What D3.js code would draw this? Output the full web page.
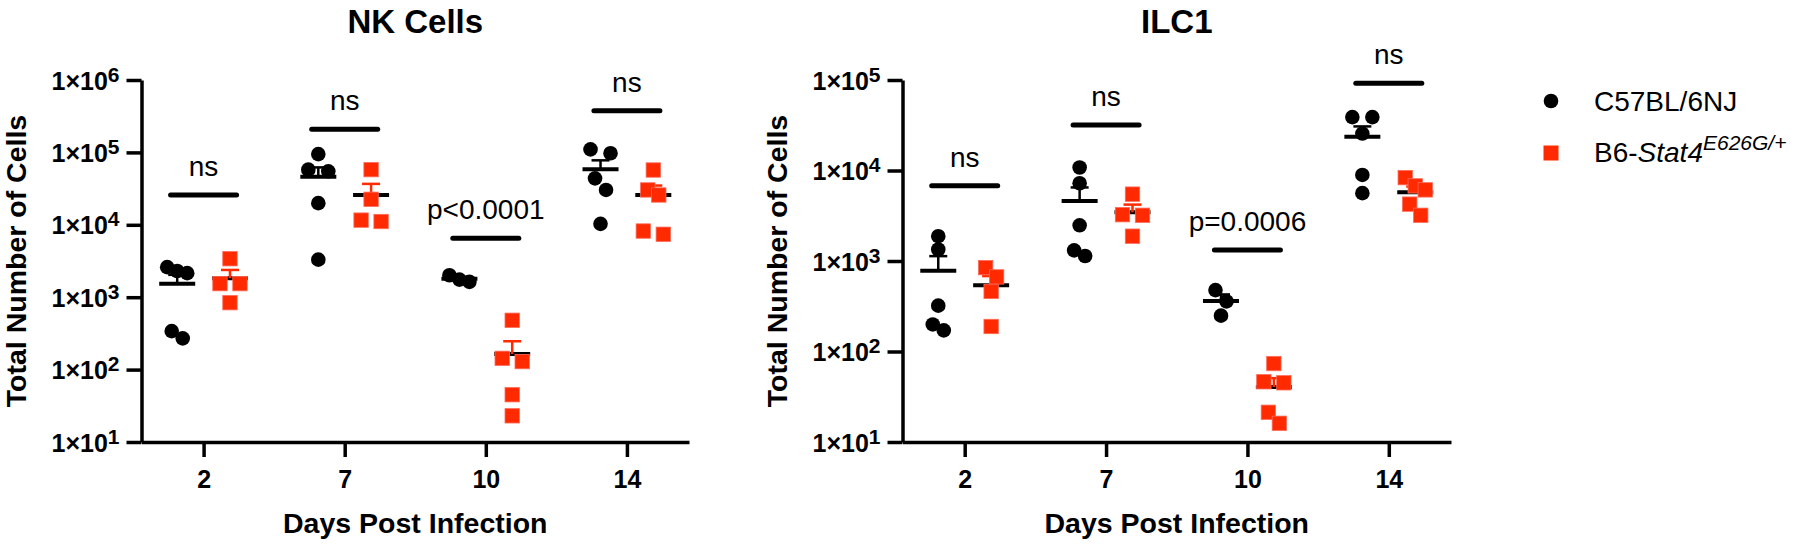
<!DOCTYPE html>
<html>
<head>
<meta charset="utf-8">
<script src="https://cdn.jsdelivr.net/npm/d3@7"></script>
<style>
  html, body { margin: 0; padding: 0; background: #fff; }
  svg { display: block; }
  text { font-family: "Liberation Sans", Arial, sans-serif; fill: #000; }
</style>
</head>
<body>
<script>
// ---------------- DATA ----------------
const days = ["2", "7", "10", "14"];
const seriesNames = ["C57BL/6NJ", "B6-Stat4"];

// NK Cells – total number of cells per mouse
const nkC57 = [
  [2600, 2300, 2150, 340, 270],
  [94700, 57800, 54800, 19900, 3300],
  [2010, 1750, 1630],
  [110000, 97300, 43800, 30300, 10300]
];
const nkStat4 = [
  [3400, 1540, 1540, 840],
  [57800, 22500, 11600, 11100],
  [480, 143, 129, 45, 23],
  [57100, 30300, 25800, 8200, 7400]
];
const nkSigValues = [25800, 208000, 6500, 377000];
const nkSigLabels = ["ns", "ns", "p<0.0001", "ns"];
const nkYTicks = [1e1, 1e2, 1e3, 1e4, 1e5, 1e6];

// ILC1 – total number of cells per mouse
const ilcC57 = [
  [1880, 1340, 321, 199, 171],
  [10800, 7230, 2480, 1310, 1135],
  [477, 358, 249],
  [38900, 38900, 25600, 8930, 5620]
];
const ilcStat4 = [
  [845, 667, 461, 189],
  [5480, 3250, 3200, 1880],
  [73.6, 46.3, 45.1, 21.3, 16.1],
  [8340, 6760, 6110, 4250, 3200]
];
const ilcSigValues = [6790, 31900, 1325, 91900];
const ilcSigLabels = ["ns", "ns", "p=0.0006", "ns"];
const ilcYTicks = [1e1, 1e2, 1e3, 1e4, 1e5];

// ---------------- STYLE ----------------
const RED = "#ff2a00";
const W = 1800, H = 544;
const TOP = 80, BOTTOM = 442;

const svg = d3.select("body").append("svg")
  .attr("width", W).attr("height", H)
  .attr("viewBox", `0 0 ${W} ${H}`);

// Prism-like scatter: points whose pixel heights are close share a row, spread symmetrically
function scatterRows(vals, y, cx, rowH) {
  const pts = vals.map((v, i) => ({ v, i, py: y(v) })).sort((a, b) => a.py - b.py);
  const out = [];
  let k = 0;
  while (k < pts.length) {
    const row = [pts[k]];
    let j = k + 1;
    while (j < pts.length && pts[j].py - pts[k].py < rowH) { row.push(pts[j]); j++; }
    const n = row.length;
    let sp = 10;
    if (n === 2) sp = (row[1].py - row[0].py) < 5 ? 20 : 11;
    row.forEach((p, i) => { p.px = cx + (i - (n - 1) / 2) * sp; out.push(p); });
    k = j;
  }
  return out;
}

function panel(cfg) {
  const g = svg.append("g");
  const x = d3.scalePoint().domain(days).range([cfg.left, cfg.right]).padding(0.44);
  const y = d3.scaleLog().domain([10, cfg.yMax]).range([BOTTOM, TOP]);
  const groupOff = x.step() * 0.187;

  // title
  g.append("text")
    .attr("x", (cfg.left + cfg.right) / 2).attr("y", 33)
    .attr("text-anchor", "middle")
    .style("font-size", "33px").style("font-weight", "bold")
    .text(cfg.title);

  // y axis
  const yAxis = d3.axisLeft(y).tickValues(cfg.yTicks).tickSize(15).tickSizeOuter(0).tickPadding(7)
    .tickFormat(() => "");
  const ya = g.append("g").attr("transform", `translate(${cfg.left},0)`).call(yAxis);
  ya.select(".domain").attr("stroke", "#000").attr("stroke-width", 3.5);
  ya.selectAll(".tick line").attr("stroke", "#000").attr("stroke-width", 3.5);
  ya.selectAll(".tick text").each(function (d) {
    const t = d3.select(this);
    const exp = Math.round(Math.log10(d));
    t.attr("font-family", null).attr("font-size", null)
      .style("font-size", "25px").style("font-weight", "bold").attr("dy", "0.36em");
    t.append("tspan").text("1\u00d710");
    t.append("tspan").attr("dy", "-8").style("font-size", "21px").text(exp);
  });

  // x axis
  const xAxis = d3.axisBottom(x).tickSize(15).tickSizeOuter(0).tickPadding(13);
  const xa = g.append("g").attr("transform", `translate(0,${BOTTOM})`).call(xAxis);
  xa.select(".domain").attr("stroke", "#000").attr("stroke-width", 3.5);
  xa.selectAll(".tick line").attr("stroke", "#000").attr("stroke-width", 3.5);
  xa.selectAll(".tick text").attr("font-family", null).attr("font-size", null)
    .style("font-size", "25px").style("font-weight", "bold");

  // axis titles
  g.append("text")
    .attr("transform", `translate(${cfg.left - 116},${(TOP + BOTTOM) / 2}) rotate(-90)`)
    .attr("text-anchor", "middle")
    .style("font-size", "28.5px").style("font-weight", "bold")
    .text("Total Number of Cells");
  g.append("text")
    .attr("x", (cfg.left + cfg.right) / 2).attr("y", 533)
    .attr("text-anchor", "middle")
    .style("font-size", "28.5px").style("font-weight", "bold")
    .text("Days Post Infection");

  // groups
  const series = [
    { vals: cfg.c57, color: "#000", shape: "circle", off: -groupOff },
    { vals: cfg.stat4, color: RED, shape: "square", off: groupOff }
  ];
  series.forEach(s => {
    s.vals.forEach((vals, di) => {
      const cx = x(days[di]) + s.off;
      const mean = d3.mean(vals);
      const sem = d3.deviation(vals) / Math.sqrt(vals.length);
      // mean line
      g.append("line").attr("x1", cx - 18).attr("x2", cx + 18)
        .attr("y1", y(mean)).attr("y2", y(mean))
        .attr("stroke", "#000").attr("stroke-width", 4);
      // upper SEM
      g.append("line").attr("x1", cx).attr("x2", cx)
        .attr("y1", y(mean)).attr("y2", y(mean + sem))
        .attr("stroke", s.color).attr("stroke-width", 2.5);
      g.append("line").attr("x1", cx - 9).attr("x2", cx + 9)
        .attr("y1", y(mean + sem)).attr("y2", y(mean + sem))
        .attr("stroke", s.color).attr("stroke-width", 2.5);
      // points
      const pts = scatterRows(vals, y, cx, 13);
      pts.forEach(p => {
        if (s.shape === "circle") {
          g.append("circle").attr("cx", p.px).attr("cy", p.py).attr("r", 7.3).attr("fill", "#000");
        } else {
          g.append("rect").attr("x", p.px - 7.2).attr("y", p.py - 7.2)
            .attr("width", 14.4).attr("height", 14.4)
            .attr("fill", RED).attr("stroke", "#ff6b5c").attr("stroke-width", 0.8);
        }
      });
    });
  });

  // significance bars
  cfg.sigValues.forEach((v, di) => {
    const cx = x(days[di]);
    g.append("line").attr("x1", cx - 33).attr("x2", cx + 33)
      .attr("y1", y(v)).attr("y2", y(v))
      .attr("stroke", "#000").attr("stroke-width", 5).attr("stroke-linecap", "round");
    g.append("text").attr("x", cx).attr("y", y(v) - 19)
      .attr("text-anchor", "middle").style("font-size", "28px")
      .text(cfg.sigLabels[di]);
  });
}

panel({ title: "NK Cells", left: 141.5, right: 689, yMax: 1e6, yTicks: nkYTicks,
        c57: nkC57, stat4: nkStat4, sigValues: nkSigValues, sigLabels: nkSigLabels });
panel({ title: "ILC1", left: 902.5, right: 1451, yMax: 1e5, yTicks: ilcYTicks,
        c57: ilcC57, stat4: ilcStat4, sigValues: ilcSigValues, sigLabels: ilcSigLabels });

// legend
const lg = svg.append("g");
lg.append("circle").attr("cx", 1551).attr("cy", 101).attr("r", 7.3).attr("fill", "#000");
lg.append("rect").attr("x", 1551 - 7.5).attr("y", 153 - 7.5).attr("width", 15).attr("height", 15)
  .attr("fill", RED);
lg.append("text").attr("x", 1594).attr("y", 111).style("font-size", "28px").text(seriesNames[0]);
const t2 = lg.append("text").attr("x", 1594).attr("y", 162).style("font-size", "28px");
t2.append("tspan").text("B6-");
t2.append("tspan").style("font-style", "italic").text("Stat4");
t2.append("tspan").attr("dy", -12).style("font-style", "italic").style("font-size", "21px").text("E626G/+");
</script>
</body>
</html>
